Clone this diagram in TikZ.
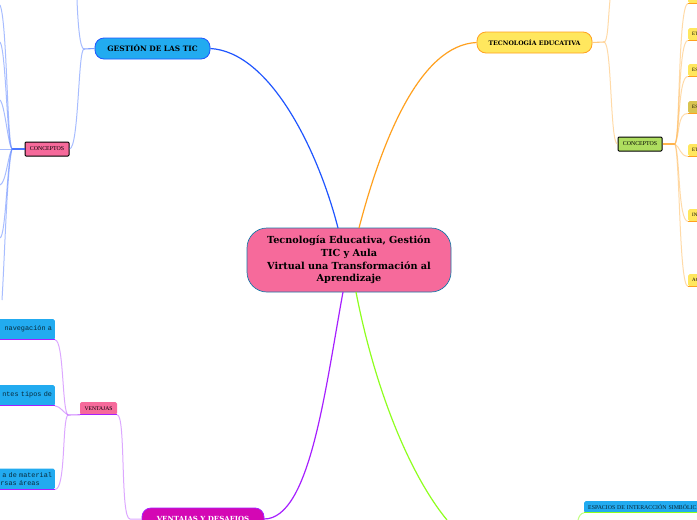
\documentclass[tikz,border=0pt]{standalone}
\usepackage{fontspec}
\setmainfont{Liberation Serif}
\newfontfamily\slab{DejaVu Serif}
\newfontfamily\cour{Liberation Mono}
\definecolor{cpink}{HTML}{F66A9B}
\definecolor{cblue}{HTML}{22ABF0}
\definecolor{cyel}{HTML}{FFE75E}
\definecolor{cgrn}{HTML}{AEDD5F}
\definecolor{cmag}{HTML}{D407B4}
\definecolor{lblue}{HTML}{1F55FF}
\definecolor{lorange}{HTML}{FFA11F}
\definecolor{lpurple}{HTML}{A61FFF}
\definecolor{lgreen}{HTML}{8FFF1F}
\tikzset{
  x=1pt,y=-1pt,
  main/.style={line width=1.2pt},
  sub/.style={line width=1pt,opacity=.55},
  stub/.style={line width=1.1pt,opacity=.8},
  under/.style={line width=1.1pt},
  rootbox/.style={draw=cblue!70!black,line width=.7pt,fill=cpink,rounded corners=20,inner sep=0pt,align=center,text width=190pt,minimum width=204pt,minimum height=64pt,font=\slab\bfseries\fontsize{9.7}{12.7}\selectfont},
  topicbox/.style={rounded corners=9,inner sep=0pt,align=center,line width=.8pt},
  conceptbox/.style={draw=black,line width=1pt,rounded corners=1,inner sep=0pt,minimum width=44pt,minimum height=14pt,font=\fontsize{5.9}{6}\selectfont},
  leaf/.style={fill=cblue,rounded corners=1.5,inner sep=0pt},
  yleaf/.style={fill=cyel,rounded corners=1.5,inner sep=0pt,anchor=north west,minimum width=30pt,minimum height=12pt,text width=26pt,align=left,font=\fontsize{5}{5}\selectfont,execute at begin node=\hspace*{2pt}},
  monoleaf/.style={leaf,anchor=north east,minimum height=20.5pt,minimum width=75pt,text width=69.5pt,inner xsep=0pt,xshift=0pt,align=right,font=\cour\fontsize{6.85}{7.2}\selectfont,text=black!75!cblue},
}
\begin{document}
\begin{tikzpicture}
\clip (0,0) rectangle (697,520);
\path[fill=white] (0,0) rectangle (697,520);

% named free ends
\coordinate (g0) at (84,49);
\coordinate (g1) at (77,0);
\coordinate (c0) at (12,149);
\coordinate (ca) at (0,5);
\coordinate (cb) at (0,42);
\coordinate (cc) at (0,100);
\coordinate (cd) at (0,149);
\coordinate (ce) at (0,185);
\coordinate (cf) at (0,238);
\coordinate (cg) at (2,300);
\coordinate (t0) at (604,42);
\coordinate (t1) at (610,0);
\coordinate (h0) at (675,144);
\coordinate (v0) at (68,415);
\coordinate (v1) at (130,519);
\coordinate (p0) at (447,520);
\coordinate (e0) at (578,520);

% root and topics
\node[rootbox] (root) at (349,260) {Tecnología Educativa, Gestión\\TIC y Aula\\Virtual una Transformación al\\Aprendizaje};
\node[topicbox,draw=lblue,fill=cblue,minimum width=115pt,minimum height=21pt,font=\slab\bfseries\fontsize{7.4}{8}\selectfont] (gest) at (152.5,48.5) {GESTIÓN DE LAS TIC};
\node[topicbox,draw=lorange,fill=cyel,minimum width=115pt,minimum height=21pt,font=\slab\bfseries\fontsize{6.2}{8}\selectfont] (tec) at (534.5,42.5) {TECNOLOGÍA EDUCATIVA};
\node[topicbox,draw=lpurple,fill=cmag,text=white,minimum width=122pt,minimum height=24pt,font=\slab\bfseries\fontsize{7}{8}\selectfont] (vd) at (203,520) {VENTAJAS Y DESAFIOS};

% concept boxes
\node[conceptbox,fill=cpink] (cg1) at (47,149) {CONCEPTOS};
\node[conceptbox,fill=cgrn] (cy1) at (640,144) {CONCEPTOS};
\node[fill=cpink,rounded corners=1.5,inner sep=0pt,minimum width=37pt,minimum height=12.5pt,font=\fontsize{5.6}{6}\selectfont] (vent) at (98.5,408.3) {VENTAJAS};

% leaves on the left
\node[monoleaf] (l1) at (55,319) {\raisebox{3pt}{navegación a}};
\node[monoleaf] (l2) at (55,385) {\raisebox{3pt}{ntes tipos de}};
\node[monoleaf] (l3) at (55,468.5) {a de material\\rsas áreas\hspace*{12.4pt}};

% leaves on the right
\node[yleaf] (y0) at (688,-9) {};
\node[yleaf] (y1) at (688,28) {ET};
\node[yleaf] (y2) at (688,64) {ES};
\node[yleaf] (y3) at (688,101) [fill=cyel!85!black] {ES};
\node[yleaf] (y4) at (688,144) {ET};
\node[yleaf] (y5) at (688,209) {IN};
\node[yleaf] (y6) at (688,274) {AC};
\node[leaf,anchor=north west,minimum width=125pt,minimum height=11.5pt,text width=121pt,align=left,font=\fontsize{5.85}{6}\selectfont,text=black!80!cblue,execute at begin node=\hspace*{2pt}] (es) at (584,501) {ESPACIOS DE INTERACCIÓN SIMBÓLICA};

% main branches
\draw[main,lblue] (338,228) .. controls (318,150) and (270,52) .. (gest.east);
\draw[main,lorange] (359,228) .. controls (382,140) and (420,45) .. (tec.west);
\draw[main,lpurple] (343,292) .. controls (325,390) and (310,519) .. (264,519);
\draw[main,lgreen] (356,292) .. controls (375,390) and (410,475) .. (p0);

% gestion branch
\draw[stub,lblue!70] (gest.west) -- (g0);
\draw[sub,lblue!70] (g0) .. controls (80,49) and (78,25) .. (g1);
\draw[sub,lblue!70] (g0) .. controls (78,49) and (79,148) .. (cg1.east);
\draw[stub,lblue] (cg1.west) -- (c0);
\draw[sub,lblue!70] (c0) .. controls (7,140) and (7,20) .. (ca);
\draw[sub,lblue!70] (c0) .. controls (7,145) and (6,50) .. (cb);
\draw[sub,lblue!70] (c0) .. controls (8,145) and (5,105) .. (cc);
\draw[sub,lblue!70] (c0) -- (cd);
\draw[sub,lblue!70] (c0) .. controls (8,155) and (6,183) .. (ce);
\draw[sub,lblue!70] (c0) .. controls (7,160) and (6,236) .. (cf);
\draw[sub,lblue!70] (c0) .. controls (7,170) and (5,250) .. (cg);

% tecnologia branch
\draw[stub,lorange!70] (tec.east) -- (t0);
\draw[sub,lorange!70] (t0) .. controls (608,42) and (608,20) .. (t1);
\draw[sub,lorange!70] (t0) .. controls (612,42) and (610,144) .. (cy1.west);
\draw[stub,lorange] (cy1.east) -- (h0);
\draw[sub,lorange!70] (h0) .. controls (680,140) and (678,5) .. (y0.south west);
\draw[sub,lorange!70] (h0) .. controls (680,138) and (678,40) .. (y1.south west);
\draw[sub,lorange!70] (h0) .. controls (680,135) and (678,76) .. (y2.south west);
\draw[sub,lorange!70] (h0) .. controls (680,135) and (677,113) .. (y3.south west);
\draw[sub,lorange!70] (h0) .. controls (680,147) and (680,156) .. (y4.south west);
\draw[sub,lorange!70] (h0) .. controls (680,155) and (678,221) .. (y5.south west);
\draw[sub,lorange!70] (h0) .. controls (680,160) and (679,286) .. (y6.south west);
\foreach \n in {y0,y1,y2,y3,y4,y5,y6} \draw[under,lorange] (\n.south west) -- (\n.south east);

% ventajas branch
\draw[sub,lpurple!70] (vent.south east) .. controls (126,415) and (120,519) .. (v1) -- (vd.west |- v1);
\draw[under,lpurple] (vent.south west) -- (vent.south east);
\draw[stub,lpurple!70] (vent.south west) -- (v0);
\draw[sub,lpurple!70] (v0) .. controls (62,412) and (64,340) .. (l1.south east);
\draw[sub,lpurple!70] (v0) .. controls (64,413) and (60,406) .. (l2.south east);
\draw[sub,lpurple!70] (v0) .. controls (62,418) and (66,490) .. (l3.south east);
\foreach \n in {l1,l2,l3} \draw[under,lpurple] (\n.south west) -- (\n.south east);

% espacios
\draw[under,lgreen] (es.south west) -- (es.south east);
\draw[sub,lgreen] (es.south west) .. controls (581,513) and (579,516) .. (e0);
\end{tikzpicture}
\end{document}
